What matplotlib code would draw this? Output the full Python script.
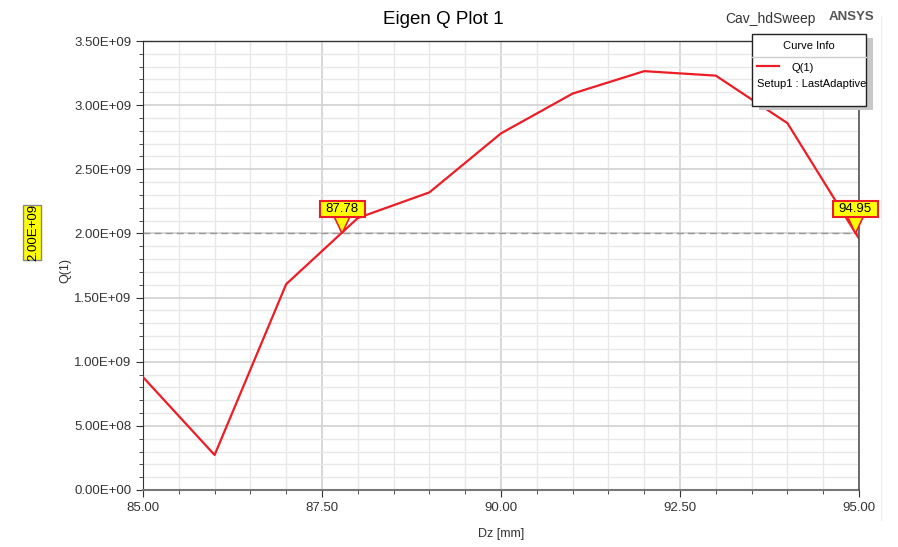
import numpy as np
import matplotlib.pyplot as plt
from matplotlib.patches import Rectangle, Polygon
from matplotlib.ticker import MultipleLocator, FuncFormatter

plt.rcParams['font.family'] = ['Liberation Sans', 'DejaVu Sans']

dz = [85, 86, 87, 88, 89, 90, 91, 92, 93, 94, 95]
q1 = [0.88e9, 0.273e9, 1.605e9, 2.12e9, 2.32e9, 2.78e9, 3.09e9, 3.265e9,
      3.23e9, 2.86e9, 1.96e9]
level = 2.0e9
markers = [87.78, 94.95]

fig = plt.figure(figsize=(8.98, 5.47), dpi=100)
ax = fig.add_axes([143/898, 1-490/547, 716/898, 449/547])

ax.plot(dz, q1, color='#ee1c25', lw=1.6, zorder=4)
ax.axhline(level, color='#999999', lw=1, ls=(0, (5, 3)), zorder=3)

ax.set_xlim(85, 95)
ax.set_ylim(0, 3.5e9)
ax.xaxis.set_major_locator(MultipleLocator(2.5))
ax.xaxis.set_minor_locator(MultipleLocator(0.5))
ax.yaxis.set_major_locator(MultipleLocator(5e8))
ax.yaxis.set_minor_locator(MultipleLocator(1e8))
ax.xaxis.set_major_formatter(FuncFormatter(lambda v, p: '%.2f' % v))


def sci(v, p):
    if v == 0:
        return '0.00E+00'
    e = int(np.floor(np.log10(abs(v))))
    return '%.2fE+%02d' % (v / 10**e, e)


ax.yaxis.set_major_formatter(FuncFormatter(sci))
ax.grid(which='major', color='#d4d4d4', lw=1.3)
ax.grid(which='minor', color='#e8e8e8', lw=1)
ax.set_axisbelow(True)
ax.tick_params(which='both', direction='out', colors='#333333', labelsize=9.5)
ax.tick_params(which='major', length=5)
ax.tick_params(which='minor', length=3)
for s in ['top', 'right']:
    ax.spines[s].set_visible(False)
ax.spines['left'].set_color('#333333')
ax.spines['bottom'].set_color('#777777')
ax.spines['bottom'].set_linewidth(1.5)
ax.plot([1, 1], [0, 1], transform=ax.transAxes, color='#555555', lw=1.2,
        clip_on=False, zorder=5)
ax.plot([0, 0.85], [1, 1], transform=ax.transAxes, color='#333333', lw=1,
        clip_on=False, zorder=5)

ax.set_xlabel('Dz [mm]', fontsize=9, labelpad=10, color='#333333')
fig.text(65/898, 1-270/547, 'Q(1)', rotation=90, ha='center', va='center',
         fontsize=9, color='#333333')

fig.text(443/898, 1-20/547, 'Eigen Q Plot 1', ha='center', va='center',
         fontsize=13.5)
fig.text(770/898, 1-19/547, 'Cav_hdSweep', ha='center', va='center',
         fontsize=10, color='#333333')
fig.text(851/898, 1-17/547, 'ANSYS', ha='center', va='center', fontsize=9.5,
         fontweight='bold', color='#555555')

# crossing markers
bx = fig.transFigure.inverted()
for m in markers:
    xp, yp = ax.transData.transform((m, level))
    w, h = 45, 16
    tri = Polygon([bx.transform((xp, yp)), bx.transform((xp - 8, yp + 17)),
                   bx.transform((xp + 8, yp + 17))], closed=True,
                  transform=fig.transFigure, fc='#ffff00', ec='#ee1c25',
                  lw=1.2, zorder=6)
    fig.add_artist(tri)
    x0, y0 = bx.transform((xp - w/2, yp + 16))
    x1, y1 = bx.transform((xp + w/2, yp + 16 + h))
    fig.add_artist(Rectangle((x0, y0), x1 - x0, y1 - y0,
                             transform=fig.transFigure, fc='#ffff00',
                             ec='#ee1c25', lw=1.5, zorder=7))
    fig.text((x0 + x1)/2, (y0 + y1)/2, '%.2f' % m, ha='center', va='center',
             fontsize=9.5, zorder=8)

# y marker
yl = ax.transData.transform((85, level))[1] / 547
fig.add_artist(Rectangle((23/898, 1-260/547), 18/898, 55/547,
                         transform=fig.transFigure, fc='#ffff00',
                         ec='#888888', lw=1, zorder=6))
fig.text(33/898, 1-232/547, '2.00E+09', rotation=90, ha='center', va='center',
         fontsize=9.5, zorder=7)

# legend box
fig.add_artist(Rectangle((759/898, 1-110/547), 114/898, 72/547,
                         transform=fig.transFigure, fc='#c8c8c8', ec='none',
                         zorder=6))
fig.add_artist(Rectangle((752/898, 1-106/547), 114/898, 72/547,
                         transform=fig.transFigure, fc='white', ec='#222222',
                         lw=1, zorder=7))
fig.add_artist(plt.Line2D([752/898, 866/898], [1-57/547, 1-57/547],
                          transform=fig.transFigure, color='#cccccc', lw=1,
                          zorder=8))
fig.text(809/898, 1-46/547, 'Curve Info', ha='center', va='center',
         fontsize=8, zorder=8)
fig.add_artist(plt.Line2D([757/898, 779/898], [1-66/547, 1-66/547],
                          transform=fig.transFigure, color='#ee1c25', lw=1.6,
                          zorder=8))
fig.text(791/898, 1-68/547, 'Q(1)', ha='left', va='center', fontsize=8,
         zorder=8)
fig.text(757/898, 1-84/547, 'Setup1 : LastAdaptive', ha='left', va='center',
         fontsize=8, zorder=8)

fig.add_artist(plt.Line2D([881/898, 881/898], [0.05, 0.97],
                          transform=fig.transFigure, color='#eeeeee', lw=1))

fig.savefig('out.png', dpi=100)
